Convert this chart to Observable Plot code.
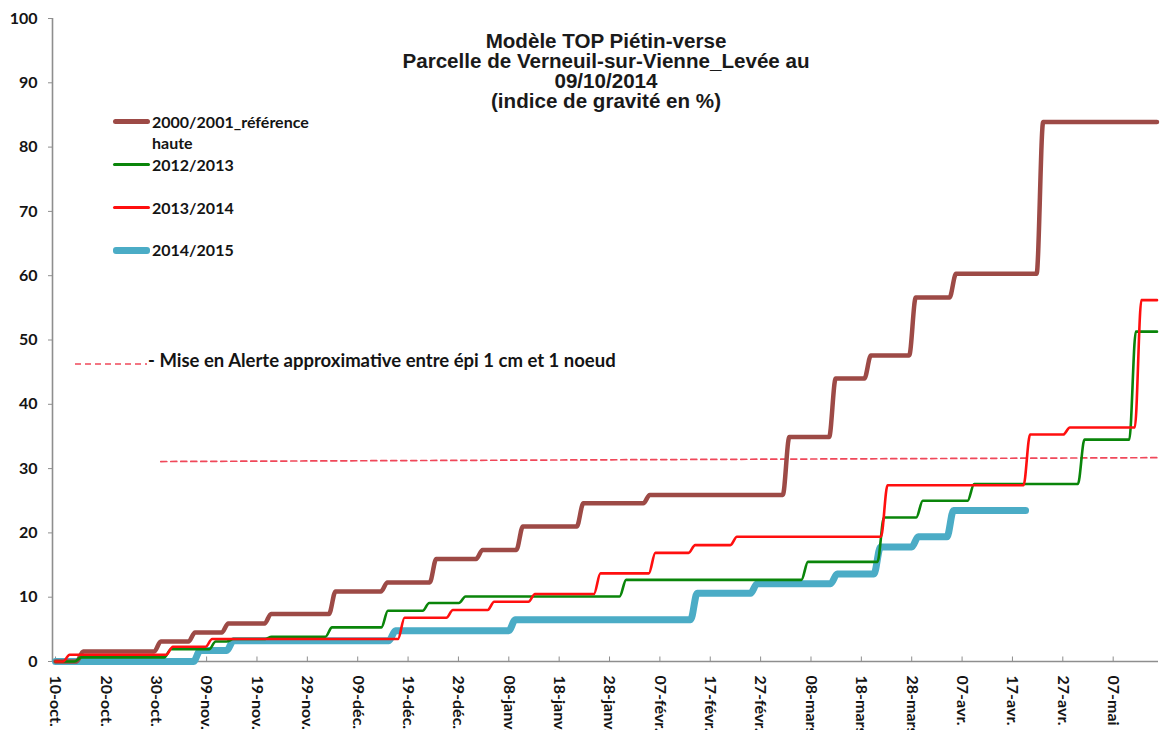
<!DOCTYPE html>
<html>
<head>
<meta charset="utf-8">
<script src="https://cdn.jsdelivr.net/npm/d3@7"></script>
<script src="https://cdn.jsdelivr.net/npm/@observablehq/plot@0.6"></script>
<style>
  body { margin: 0; background: #fff; }
  #wrap { position: relative; width: 1161px; height: 730px; overflow: hidden; background: #fff; }
  #chart svg { display: block; }
  .title { position: absolute; left: 306px; width: 600px; top: 31px; text-align: center;
           font: bold 20.6px/20px "Liberation Sans", Arial, sans-serif; color: #1a1a1a; white-space: nowrap; }
  .legtxt { position: absolute; left: 152px; font: bold 16px/21px Lato, sans-serif; color: #141414; white-space: nowrap; }
  .legline { position: absolute; left: 113px; width: 37px; border-radius: 3px; }
  .alert { position: absolute; left: 148px; font: bold 18.5px/21px Lato, sans-serif; color: #141414; white-space: nowrap; }
  .alertdash { position: absolute; left: 75px; }
</style>
</head>
<body>
<div id="wrap">
  <div id="chart"></div>
  <div class="title" id="title"></div>
  <div id="legend"></div>
</div>
<script>
// ---- data ----
const titleLines = ["Modèle TOP Piétin-verse", "Parcelle de Verneuil-sur-Vienne_Levée au", "09/10/2014", "(indice de gravité en %)"];

// x axis: days since 10 Oct, tick every 10 days
const tickDays = [0, 10, 20, 30, 40, 50, 60, 70, 80, 90, 100, 110, 120, 130, 140, 150, 160, 170, 180, 190, 200, 210];
const tickLabels = ["10-oct.", "20-oct.", "30-oct.", "09-nov.", "19-nov.", "29-nov.", "09-déc.", "19-déc.", "29-déc.", "08-janv.", "18-janv.", "28-janv.", "07-févr.", "17-févr.", "27-févr.", "08-mars", "18-mars", "28-mars", "07-avr.", "17-avr.", "27-avr.", "07-mai"];
const yTicks = [0, 10, 20, 30, 40, 50, 60, 70, 80, 90, 100];

const seriesNames = ["2000/2001_référence haute", "2012/2013", "2013/2014", "2014/2015"];

// step series: day when the value changes, value after the change
const brownDays = [0, 4.2, 19.6, 26.4, 33.0, 41.5, 54.3, 64.6, 74.3, 83.5, 91.5, 103.5, 116.7, 144.4, 153.6, 160.6, 169.5, 177.5, 194.8];
const brownVals = [0, 1.57, 3.1, 4.5, 5.9, 7.4, 10.9, 12.3, 15.95, 17.35, 21.0, 24.6, 25.9, 34.9, 44.0, 47.6, 56.6, 60.3, 83.9];
const brownEnd = 218.7;

const greenDays = [0, 3.8, 21.6, 30.5, 34.0, 41.6, 53.6, 64.7, 72.9, 80.1, 112.0, 148.1, 163.2, 170.9, 181.1, 203.0, 213.2];
const greenVals = [0, 0.64, 1.9, 3.1, 3.5, 3.86, 5.3, 7.9, 9.1, 10.1, 12.7, 15.5, 22.4, 25.0, 27.6, 34.5, 51.3];
const greenEnd = 218.7;

const redDays = [0, 1.5, 22.0, 29.8, 68.0, 77.6, 85.8, 93.9, 106.9, 117.8, 125.7, 134.0, 163.9, 192.2, 200.1, 214.3];
const redVals = [0, 1.06, 2.3, 3.5, 6.8, 8.0, 9.3, 10.5, 13.7, 16.9, 18.1, 19.4, 27.4, 35.3, 36.4, 56.2];
const redEnd = 218.7;

const blueDays = [0, 27.4, 34.0, 66.2, 90.0, 126.1, 138.0, 153.9, 162.5, 170.0, 177.0];
const blueVals = [0, 1.7, 3.24, 4.8, 6.5, 10.6, 12.1, 13.6, 17.8, 19.4, 23.5];
const blueEnd = 192.6;

// alert threshold line (dashed)
const alertDays = [20.9, 218.7];
const alertVals = [31.1, 31.7];
const alertLabel = "- Mise en Alerte approximative entre épi 1 cm et 1 noeud";

// ---- build ----
const colors = { brown: "#9D4A46", green: "#0A850A", red: "#FF0F0F", blue: "#4BACC6", alert: "#F0485A", axis: "#8E8E8E" };

function steps(days, vals, endDay, rise = 1.3) {
  const pts = [{ x: days[0], y: vals[0] }];
  for (let i = 1; i < days.length; i++) {
    pts.push({ x: days[i], y: vals[i - 1] });
    pts.push({ x: days[i] + rise, y: vals[i] });
  }
  pts.push({ x: endDay, y: vals[vals.length - 1] });
  return pts;
}

const brown = steps(brownDays, brownVals, brownEnd);
const green = steps(greenDays, greenVals, greenEnd);
const red = steps(redDays, redVals, redEnd);
const blue = steps(blueDays, blueVals, blueEnd);
const alert = alertDays.map((d, i) => ({ x: d, y: alertVals[i] }));

const xDomain = [-0.6, 219];

const chart = Plot.plot({
  width: 1161,
  height: 730,
  marginLeft: 52,
  marginRight: 3,
  marginTop: 18,
  marginBottom: 69,
  style: { fontFamily: "Lato, sans-serif", fontSize: "16px", fontWeight: "bold", color: "#141414", background: "#fff" },
  x: { domain: xDomain },
  y: { domain: [0, 100] },
  marks: [
    Plot.axisY({ ticks: yTicks, tickSize: 4, tickPadding: 11, stroke: colors.axis, fill: "#141414", label: null, tickFormat: d => String(d) }),
    Plot.axisX({ ticks: tickDays, tickSize: 0, tickPadding: 14, tickRotate: 90, fill: "#141414", label: null,
                 tickFormat: d => tickLabels[tickDays.indexOf(d)] }),
    Plot.ruleX(tickDays, { y1: 0, y2: 0.7, stroke: colors.axis, strokeWidth: 1 }),
    Plot.ruleY([0], { stroke: colors.axis, strokeWidth: 1.6 }),
    Plot.ruleX([xDomain[0]], { stroke: colors.axis, strokeWidth: 1.6 }),
    Plot.line(alert, { x: "x", y: "y", stroke: colors.alert, strokeWidth: 1.7, strokeDasharray: "6,4" }),
    Plot.line(blue, { x: "x", y: "y", stroke: colors.blue, strokeWidth: 7, curve: "monotone-x", strokeLinecap: "round", strokeLinejoin: "round" }),
    Plot.line(brown, { x: "x", y: "y", stroke: colors.brown, strokeWidth: 4.5, curve: "monotone-x", strokeLinecap: "round", strokeLinejoin: "round" }),
    Plot.line(green, { x: "x", y: "y", stroke: colors.green, strokeWidth: 2.6, curve: "monotone-x", strokeLinecap: "round", strokeLinejoin: "round" }),
    Plot.line(red, { x: "x", y: "y", stroke: colors.red, strokeWidth: 2.6, curve: "monotone-x", strokeLinecap: "round", strokeLinejoin: "round" })
  ]
});
document.getElementById("chart").appendChild(chart);

// title
document.getElementById("title").innerHTML = titleLines.map(t => `<div>${t}</div>`).join("");

// legend (inside the plot area)
const legend = document.getElementById("legend");
const legItems = [
  { label: ["2000/2001_référence", "haute"], color: colors.brown, w: 4.5, cy: 121.7 },
  { label: ["2012/2013"], color: colors.green, w: 2.6, cy: 164.5 },
  { label: ["2013/2014"], color: colors.red, w: 2.6, cy: 207.5 },
  { label: ["2014/2015"], color: colors.blue, w: 7, cy: 250 }
];
legItems.forEach(it => {
  const ln = document.createElement("div");
  ln.className = "legline";
  ln.style.top = (it.cy - it.w / 2) + "px";
  ln.style.height = it.w + "px";
  ln.style.background = it.color;
  legend.appendChild(ln);
  const tx = document.createElement("div");
  tx.className = "legtxt";
  tx.style.top = (it.cy - 11) + "px";
  tx.innerHTML = it.label.join("<br>");
  legend.appendChild(tx);
});
const ad = document.createElement("div");
ad.className = "alertdash";
ad.style.top = "356px";
ad.innerHTML = `<svg width="72" height="12"><line x1="0" y1="6" x2="72" y2="6" stroke="${colors.alert}" stroke-width="1.7" stroke-dasharray="6,4"/></svg>`;
legend.appendChild(ad);
const at = document.createElement("div");
at.className = "alert";
at.style.top = "350px";
at.textContent = alertLabel;
legend.appendChild(at);
</script>
</body>
</html>
